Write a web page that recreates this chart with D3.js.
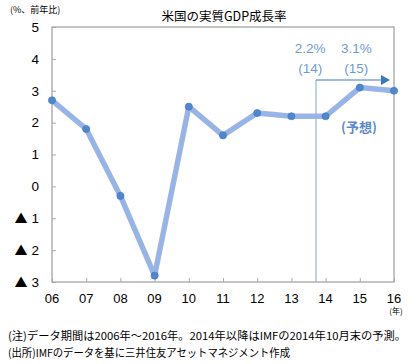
<!DOCTYPE html>
<html><head><meta charset="utf-8">
<script src="https://cdn.jsdelivr.net/npm/d3@7"></script>
<style>
body{margin:0;background:#fff;}
text{font-family:"Liberation Sans","Noto Sans CJK JP",sans-serif;}
.jp{font-family:"Noto Sans CJK JP",sans-serif;}
</style></head>
<body><svg id="c" width="414" height="364"></svg>
<script>
const years = ["06","07","08","09","10","11","12","13","14","15","16"];
const growth = [2.7, 1.8, -0.3, -2.8, 2.5, 1.6, 2.3, 2.2, 2.2, 3.1, 3.0];
const yTicks = [5,4,3,2,1,0,-1,-2,-3];
const annotations = [
  {value:"2.2%", label:"(14)"},
  {value:"3.1%", label:"(15)"}
];

const svg = d3.select("#c");
const L=52, R=394, T=27, B=282;
const x = d3.scalePoint().domain(years).range([L,R]);
const xi = d3.scaleLinear().domain([0, years.length-1]).range([L,R]);
const y = d3.scaleLinear().domain([-3,5]).range([B,T]);
const forecastPos = 7.72;          // layout: between 13 and 14
const annPos = [7.55, 8.9];        // layout: label centres (index units)

// frame
svg.append("rect").attr("x",L).attr("y",T).attr("width",R-L).attr("height",B-T)
  .attr("fill","none").attr("stroke","#8a8a8a").attr("stroke-width",1);

// y axis
const ya = svg.append("g").attr("transform",`translate(${L},0)`)
  .call(d3.axisRight(y).tickValues(yTicks).tickSize(4).tickFormat(""));
ya.select(".domain").remove();
ya.selectAll("line").attr("stroke","#aaa");
const yl = svg.append("g").selectAll("g").data(yTicks).join("g");
yl.append("text").attr("x",39).attr("y",d=>y(d)).attr("dy","0.36em").attr("text-anchor","end")
  .attr("font-size",13.5).attr("fill","#000").text(d=>Math.abs(d));
yl.filter(d=>d<0).append("text").attr("class","jp").attr("x",21).attr("y",d=>y(d)).attr("dy","0.38em")
  .attr("text-anchor","middle").attr("font-size",13).attr("fill","#000").text("▲");

// x axis
const xa = svg.append("g").attr("transform",`translate(0,${B})`)
  .call(d3.axisTop(x).tickSize(4).tickFormat(""));
xa.select(".domain").remove();
xa.selectAll("line").attr("stroke","#aaa");
svg.append("g").selectAll("text").data(years).join("text")
  .attr("x",d=>x(d)).attr("y",298).attr("dy","0.36em").attr("text-anchor","middle")
  .attr("font-size",13).attr("fill","#000").text(d=>d);
svg.append("text").attr("class","jp").attr("x",396).attr("y",314).attr("text-anchor","middle")
  .attr("font-size",8).text("(年)");

// forecast marker
const fx = xi(forecastPos);
svg.append("line").attr("x1",fx).attr("x2",fx).attr("y1",B).attr("y2",80)
  .attr("stroke","#8fb3e3").attr("stroke-width",1.2);
svg.append("line").attr("x1",fx).attr("x2",383).attr("y1",80).attr("y2",80)
  .attr("stroke","#3c76c2").attr("stroke-width",1.2);
svg.append("path").attr("d",`M381,75L390,80L381,85Z`).attr("fill","#3c76c2");

// line
const line = d3.line().x((d,i)=>x(years[i])).y(d=>y(d));
svg.append("path").datum(growth).attr("d",line).attr("fill","none")
  .attr("stroke","#a6b5d2").attr("stroke-width",5.5).attr("stroke-linejoin","round");
svg.append("path").datum(growth).attr("d",line).attr("fill","none")
  .attr("stroke","#93b4ee").attr("stroke-width",3.5).attr("stroke-linejoin","round");
svg.append("g").selectAll("circle").data(growth).join("circle")
  .attr("cx",(d,i)=>x(years[i])).attr("cy",d=>y(d)).attr("r",3.6)
  .attr("fill","#4f86d2").attr("stroke","#3f73c0").attr("stroke-width",0.6);

// annotations
const ag = svg.append("g").selectAll("g").data(annotations).join("g");
ag.append("text").attr("x",(d,i)=>xi(annPos[i])).attr("y",53).attr("text-anchor","middle")
  .attr("font-size",13.5).attr("fill","#6f9ad8").text(d=>d.value);
ag.append("text").attr("x",(d,i)=>xi(annPos[i])).attr("y",73).attr("text-anchor","middle")
  .attr("font-size",13.5).attr("fill","#6f9ad8").text(d=>d.label);
svg.append("text").attr("class","jp").attr("x",359).attr("y",132).attr("text-anchor","middle")
  .attr("font-size",13).attr("font-weight","bold").attr("fill","#5b8ad0").text("(予想)");

// title & unit
svg.append("text").attr("class","jp").attr("x",224).attr("y",21).attr("text-anchor","middle")
  .attr("font-size",12.5).attr("fill","#000").text("米国の実質GDP成長率");
svg.append("text").attr("class","jp").attr("x",10).attr("y",13)
  .attr("font-size",9).attr("fill","#000").text("(%、前年比)");

// notes
svg.append("text").attr("class","jp").attr("x",8).attr("y",340)
  .attr("font-size",11).attr("textLength",398).attr("lengthAdjust","spacingAndGlyphs")
  .attr("fill","#000").text("(注)データ期間は2006年～2016年。2014年以降はIMFの2014年10月末の予測。");
svg.append("text").attr("class","jp").attr("x",8).attr("y",357)
  .attr("font-size",11).attr("textLength",282).attr("lengthAdjust","spacingAndGlyphs")
  .attr("fill","#000").text("(出所)IMFのデータを基に三井住友アセットマネジメント作成");
</script></body></html>
